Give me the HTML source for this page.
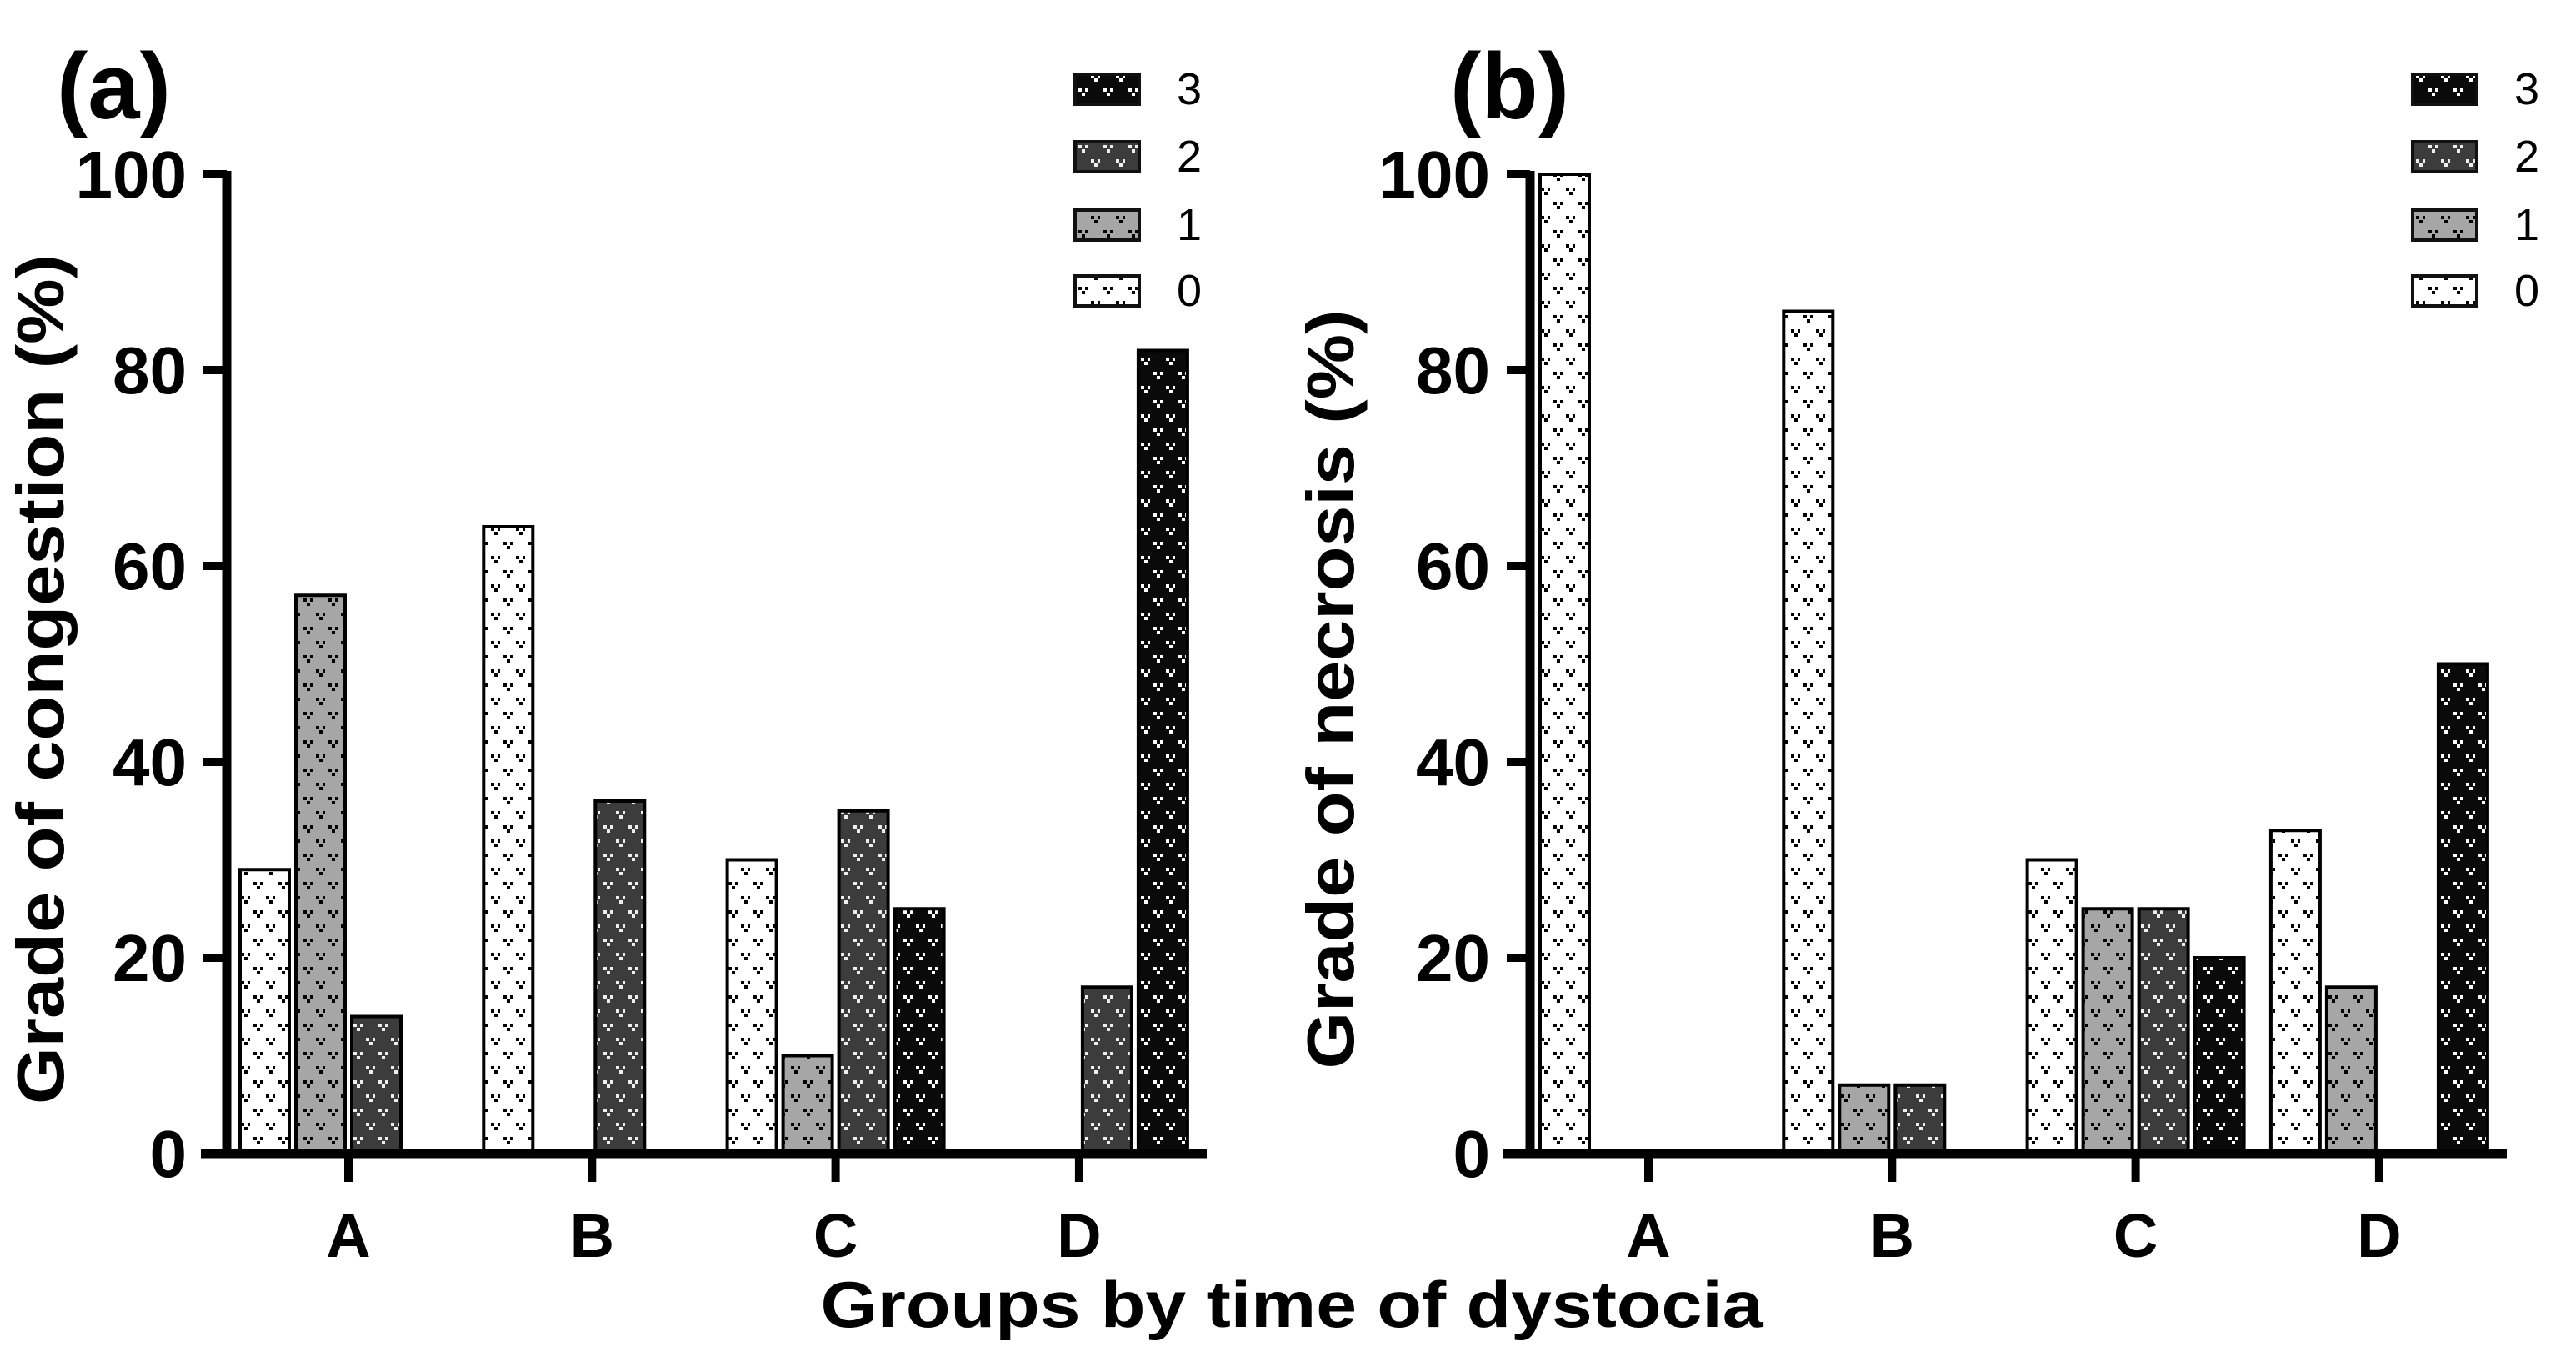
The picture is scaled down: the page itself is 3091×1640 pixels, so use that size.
<!DOCTYPE html>
<html><head><meta charset="utf-8"><style>
html,body{margin:0;padding:0;background:#fff;}
svg{display:block;font-family:"Liberation Sans",Arial,sans-serif;}
</style></head><body>
<svg id="fig" width="3091" height="1640" viewBox="0 0 3091 1640" xmlns="http://www.w3.org/2000/svg">
<defs>
<pattern id="p0" width="30" height="34" patternUnits="userSpaceOnUse"><rect width="30" height="34" fill="#fff"/><g fill="#000"><rect x="4" y="4" width="4" height="4"/><rect x="12" y="4" width="4" height="4"/><rect x="8" y="9" width="4" height="4"/><rect x="19" y="21" width="4" height="4"/><rect x="27" y="21" width="3" height="4"/><rect x="23" y="26" width="4" height="4"/></g></pattern>
<pattern id="p1" width="30" height="34" patternUnits="userSpaceOnUse"><rect width="30" height="34" fill="#a6a6a6"/><g fill="#000"><rect x="4" y="4" width="4" height="4"/><rect x="12" y="4" width="4" height="4"/><rect x="8" y="9" width="4" height="4"/><rect x="19" y="21" width="4" height="4"/><rect x="27" y="21" width="3" height="4"/><rect x="23" y="26" width="4" height="4"/></g></pattern>
<pattern id="p2" width="30" height="34" patternUnits="userSpaceOnUse"><rect width="30" height="34" fill="#3c3c3c"/><g fill="#eee"><rect x="4" y="4" width="4" height="4"/><rect x="12" y="4" width="4" height="4"/><rect x="8" y="9" width="4" height="4"/><rect x="19" y="21" width="4" height="4"/><rect x="27" y="21" width="3" height="4"/><rect x="23" y="26" width="4" height="4"/></g></pattern>
<pattern id="p3" width="30" height="34" patternUnits="userSpaceOnUse"><rect width="30" height="34" fill="#0a0a0a"/><g fill="#fff"><rect x="4" y="4" width="4" height="4"/><rect x="12" y="4" width="4" height="4"/><rect x="8" y="9" width="4" height="4"/><rect x="19" y="21" width="4" height="4"/><rect x="27" y="21" width="3" height="4"/><rect x="23" y="26" width="4" height="4"/></g></pattern>
</defs>
</svg>
<script>
const categories = ["A","B","C","D"];
const grades = ["0","1","2","3"];
const yTicks = [0,20,40,60,80,100];
// congestion (panel a), rows = grade 0..3, columns = A..D
const congestion0 = [29,64,30,0];
const congestion1 = [57,0,10,0];
const congestion2 = [14,36,35,17];
const congestion3 = [0,0,25,82];
// necrosis (panel b)
const necrosis0 = [100,86,30,33];
const necrosis1 = [0,7,25,17];
const necrosis2 = [0,7,25,0];
const necrosis3 = [0,0,20,50];

const NS="http://www.w3.org/2000/svg";
const svg=document.getElementById('fig');
function mk(tag,attrs,parent,text){const e=document.createElementNS(NS,tag);for(const k in attrs)e.setAttribute(k,attrs[k]);if(text!==undefined)e.textContent=text;(parent||svg).appendChild(e);return e;}

function panel(cfg){
  const g=mk('g',{});
  
  
  const y0=1384,y100=209;
  const ys=v=>y0-(v/100)*(y0-y100);
  const xs=i=>cfg.tick0+i*cfg.step;
  const series=cfg.series;
  // bars
  series.forEach((vals,s)=>{
    vals.forEach((v,i)=>{
      if(v<=0)return;
      const cx=xs(i)+(s-1.5)*67;
      const r=mk('rect',{x:cx-29.5,y:ys(v),width:59,height:y0-ys(v),fill:'url(#p'+s+')',stroke:'#000','stroke-width':4},g);
      
      
    });
  });
  // y axis
  const ya=mk('line',{x1:cfg.yx,y1:y100-4,x2:cfg.yx,y2:y0+5,stroke:'#000','stroke-width':11},g);
  
  
  yTicks.forEach(t=>{
    mk('line',{x1:cfg.yx-28,y1:ys(t),x2:cfg.yx,y2:ys(t),stroke:'#000','stroke-width':10},g);
    const tl=mk('text',{x:cfg.yx-48,y:ys(t)+28,'text-anchor':'end','font-size':80,'font-weight':'bold'},g,String(t));
    
    
  });
  // x axis
  const xa=mk('line',{x1:cfg.xa0,y1:y0,x2:cfg.xa1,y2:y0,stroke:'#000','stroke-width':11},g);
  
  
  categories.forEach((c,i)=>{
    mk('line',{x1:xs(i),y1:y0,x2:xs(i),y2:1418,stroke:'#000','stroke-width':10},g);
    const tl=mk('text',{x:xs(i),y:1508,'text-anchor':'middle','font-size':74,'font-weight':'bold'},g,c);
    
    
  });
  // y title
  const yt=mk('text',{x:0,y:0,'text-anchor':'middle','font-size':80,'font-weight':'bold',transform:`translate(${cfg.ytx},${cfg.yty}) rotate(-90)`,textLength:cfg.ytl,lengthAdjust:'spacingAndGlyphs'},g,cfg.ytitle);
  
  
  // panel label
  const pl=mk('text',{x:cfg.plx,y:142,'font-size':112,'font-weight':'bold'},g,cfg.plabel);
  
  
  // legend
  const lg=mk('g',{},g);
  
  
  const rowsY=[87,168,250,329];
  [3,2,1,0].forEach((s,k)=>{
    const e=mk('g',{},lg);
    
    
    mk('rect',{x:cfg.lgx,y:rowsY[k]+2,width:77,height:36,fill:'url(#p'+s+')',stroke:'#111','stroke-width':4},e);
    mk('text',{x:cfg.lgx+122,y:rowsY[k]+38,'font-size':54},e,grades[s]);
  });
}
panel({name:'congestion-chart',tick0:418,step:292.3,series:[congestion0,congestion1,congestion2,congestion3],yx:272,xa0:241,xa1:1448,ytx:76,yty:815,ytl:1020,ytitle:'Grade of congestion (%)',plx:68,plabel:'(a)',lgx:1290});
panel({name:'necrosis-chart',tick0:1978,step:292.3,series:[necrosis0,necrosis1,necrosis2,necrosis3],yx:1836,xa0:1803,xa1:3008,ytx:1624,yty:827,ytl:911,ytitle:'Grade of necrosis (%)',plx:1740,plabel:'(b)',lgx:2895});
const xt=mk('text',{x:1550,y:1592,'text-anchor':'middle','font-size':78,'font-weight':'bold',textLength:1131,lengthAdjust:'spacingAndGlyphs'},svg,'Groups by time of dystocia');


</script>
</body></html>
